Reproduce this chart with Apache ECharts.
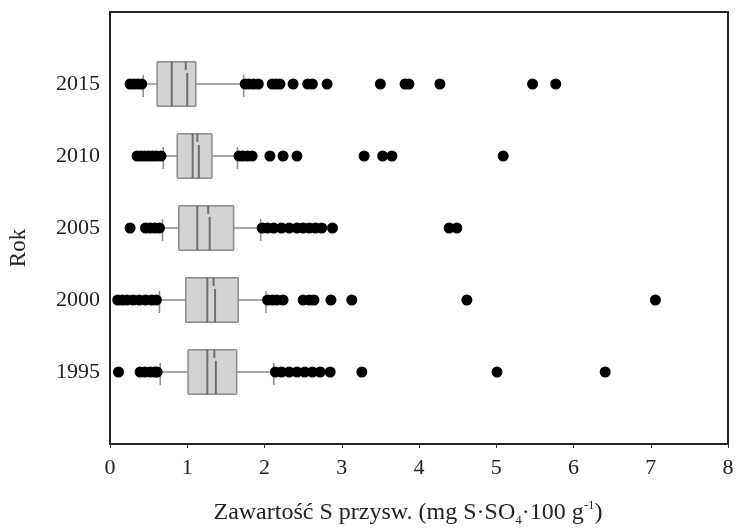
<!DOCTYPE html>
<html>
<head>
<meta charset="utf-8">
<script src="https://cdn.jsdelivr.net/npm/echarts@6/dist/echarts.min.js"></script>
<style>html,body{margin:0;padding:0;background:#fff}#c{width:737px;height:532px}</style>
</head>
<body>
<div id="c"></div>
<script>
const years = ['1995', '2000', '2005', '2010', '2015'];
const whiskerLow  = [0.65, 0.64, 0.68, 0.69, 0.43];
const q1          = [1.01, 0.98, 0.89, 0.87, 0.61];
const median      = [1.26, 1.26, 1.13, 1.07, 0.80];
const mean        = [1.37, 1.36, 1.29, 1.15, 1.00];
const q3          = [1.64, 1.66, 1.60, 1.32, 1.11];
const whiskerHigh = [2.12, 2.02, 1.95, 1.65, 1.73];

const outliers1995 = [0.11, 0.39, 0.45, 0.52, 0.58, 0.61, 2.14, 2.22, 2.32, 2.42, 2.52, 2.62, 2.72, 2.85, 3.26, 5.01, 6.41];
const outliers2000 = [0.10, 0.16, 0.22, 0.30, 0.38, 0.46, 0.54, 0.60, 2.04, 2.10, 2.16, 2.24, 2.50, 2.58, 2.64, 2.86, 3.13, 4.62, 7.06];
const outliers2005 = [0.26, 0.46, 0.52, 0.58, 0.64, 1.97, 2.04, 2.12, 2.22, 2.32, 2.42, 2.50, 2.58, 2.66, 2.74, 2.88, 4.39, 4.49];
const outliers2010 = [0.35, 0.40, 0.45, 0.50, 0.55, 0.60, 0.66, 1.67, 1.72, 1.78, 1.84, 2.07, 2.24, 2.42, 3.29, 3.53, 3.65, 5.09];
const outliers2015 = [0.26, 0.31, 0.36, 0.41, 1.75, 1.80, 1.86, 1.92, 2.10, 2.15, 2.20, 2.37, 2.56, 2.62, 2.81, 3.50, 3.82, 3.87, 4.27, 5.47, 5.77];

const xTicks = ['0', '1', '2', '3', '4', '5', '6', '7', '8'];

const FONT = '"Liberation Serif", "Times New Roman", serif';

const boxData = years.map((y, i) => [i + 1, whiskerLow[i], q1[i], median[i], mean[i], q3[i], whiskerHigh[i]]);
const allOutliers = [outliers1995, outliers2000, outliers2005, outliers2010, outliers2015];
const outlierData = [];
allOutliers.forEach((arr, i) => arr.forEach(v => outlierData.push([v, i + 1])));

const chart = echarts.init(document.getElementById('c'), null, {renderer: 'canvas'});

const whiskerColor = '#8c8c8c';
const option = {
  animation: false,
  backgroundColor: '#fff',
  grid: {left: 110, right: 9, top: 12, bottom: 82, show: true, borderColor: '#222', borderWidth: 2, backgroundColor: 'transparent'},
  xAxis: {
    type: 'value', min: 0, max: 8, interval: 1,
    axisLine: {show: false},
    axisTick: {show: true, length: 4, lineStyle: {color: '#333', width: 1}},
    splitLine: {show: false},
    axisLabel: {fontFamily: FONT, fontSize: 22, color: '#222', margin: 13, formatter: v => xTicks[v] !== undefined ? xTicks[v] : ''},
    name: 'Zawartość S przysw. (mg S·SO{sub|4}·100 g{sup|-1})',
    nameLocation: 'middle', nameGap: 55,
    nameTextStyle: {
      fontFamily: FONT, fontSize: 24, color: '#222', lineHeight: 28, padding: [0, 22, 0, 0],
      rich: {
        sub: {fontFamily: FONT, fontSize: 13, color: '#222', lineHeight: 13, verticalAlign: 'bottom'},
        sup: {fontFamily: FONT, fontSize: 13, color: '#222', lineHeight: 13, verticalAlign: 'top'}
      }
    }
  },
  yAxis: {
    type: 'value', min: 0, max: 6, interval: 1,
    axisLine: {show: false},
    axisTick: {show: false},
    splitLine: {show: false},
    axisLabel: {fontFamily: FONT, fontSize: 22, color: '#222', margin: 10, padding: [12, 0, 0, 0],
      formatter: v => (Number.isInteger(v) && v >= 1 && v <= 5) ? years[v - 1] : ''}
  },
  graphic: [{
    type: 'text', x: 19, y: 248, rotation: Math.PI / 2,
    style: {text: 'Rok', font: '23px ' + FONT, fill: '#222', align: 'center', verticalAlign: 'middle'}
  }],
  series: [{
    type: 'custom',
    data: boxData,
    encode: {y: 0, x: [1, 2, 3, 4, 5, 6]},
    z: 2,
    renderItem: function (params, api) {
      const row = api.value(0);
      const xs = [1, 2, 3, 4, 5, 6].map(k => api.coord([api.value(k), row])[0]);
      const yC = api.coord([0, row])[1];
      const half = api.size([0, 0.615])[1] / 2;
      const capTop = yC - 9, capBot = yC + 13;
      const boxTop = yC - half, boxBot = yC + half;
      return {
        type: 'group',
        children: [
          {type: 'line', shape: {x1: xs[0], y1: yC, x2: xs[1], y2: yC}, style: {stroke: whiskerColor, lineWidth: 1.5}},
          {type: 'line', shape: {x1: xs[4], y1: yC, x2: xs[5], y2: yC}, style: {stroke: whiskerColor, lineWidth: 1.5}},
          {type: 'line', shape: {x1: xs[0], y1: capTop, x2: xs[0], y2: capBot}, style: {stroke: whiskerColor, lineWidth: 1.5}},
          {type: 'line', shape: {x1: xs[5], y1: capTop, x2: xs[5], y2: capBot}, style: {stroke: whiskerColor, lineWidth: 1.5}},
          {type: 'rect', shape: {x: xs[1], y: boxTop, width: xs[4] - xs[1], height: boxBot - boxTop, r: 1},
            style: {fill: '#d3d3d3', stroke: '#8a8a8a', lineWidth: 1.5}},
          {type: 'line', shape: {x1: xs[2], y1: boxTop, x2: xs[2], y2: boxBot}, style: {stroke: '#6f6f6f', lineWidth: 2}},
          {type: 'line', shape: {x1: xs[3] - 1.5, y1: boxTop, x2: xs[3] - 1.5, y2: boxTop + 8}, style: {stroke: '#6f6f6f', lineWidth: 2}},
          {type: 'line', shape: {x1: xs[3], y1: boxTop + 11, x2: xs[3], y2: boxBot}, style: {stroke: '#6f6f6f', lineWidth: 2}}
        ]
      };
    }
  }, {
    type: 'scatter',
    data: outlierData,
    symbol: 'circle',
    symbolSize: 11,
    itemStyle: {color: '#000', opacity: 1},
    z: 3
  }]
};
chart.setOption(option);
</script>
</body>
</html>
